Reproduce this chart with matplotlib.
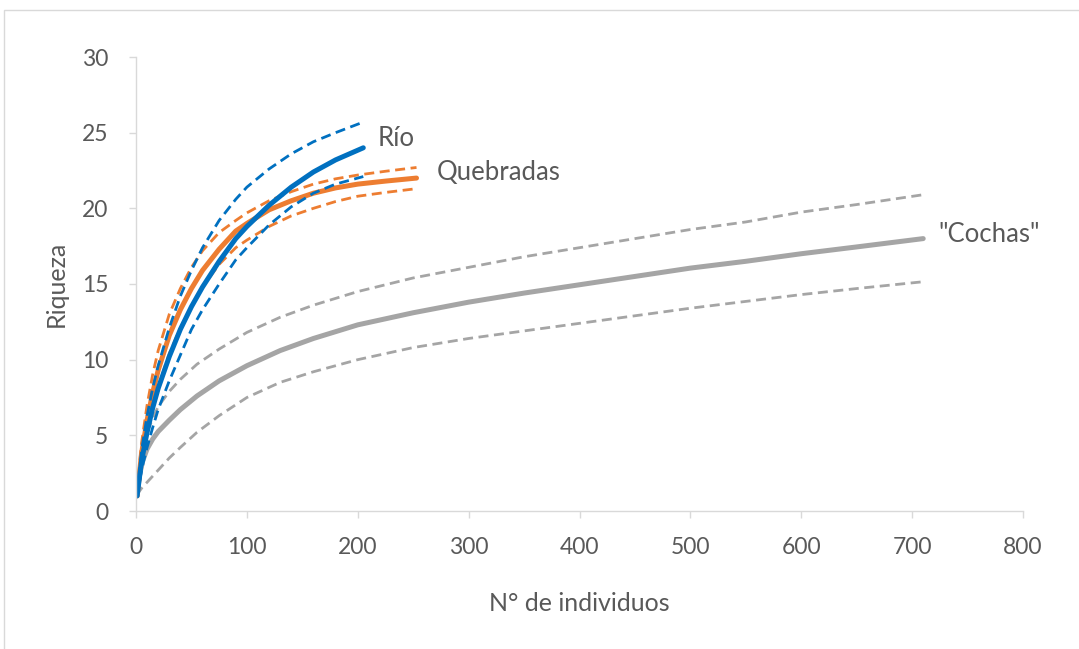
import matplotlib
matplotlib.use("Agg")
import matplotlib.pyplot as plt
from matplotlib.patches import Rectangle

# ---- data ----
rio_x     = [1, 5, 10, 15, 20, 30, 40, 50, 60, 75, 90, 100, 120, 140, 160, 180, 205]
rio_mean  = [1, 3.3, 5.2, 6.8, 8.1, 10.2, 12.0, 13.5, 14.8, 16.5, 18.0, 18.8, 20.2, 21.4, 22.4, 23.2, 24.0]
rio_upper = [1.2, 4.0, 6.3, 8.1, 9.6, 12.1, 14.2, 15.9, 17.4, 19.2, 20.6, 21.4, 22.6, 23.6, 24.4, 25.0, 25.7]
rio_lower = [1, 2.7, 4.2, 5.5, 6.7, 8.6, 10.3, 12.0, 13.3, 15.0, 16.6, 17.4, 18.9, 20.1, 21.0, 21.6, 22.1]

queb_x     = [1, 5, 10, 15, 20, 30, 40, 50, 60, 75, 90, 100, 120, 140, 160, 180, 200, 225, 253]
queb_mean  = [1, 3.8, 6.0, 7.8, 9.3, 11.6, 13.3, 14.7, 15.9, 17.3, 18.5, 19.0, 19.9, 20.5, 21.0, 21.35, 21.6, 21.8, 22.0]
queb_upper = [1.3, 4.5, 7.0, 9.0, 10.6, 13.0, 14.7, 16.1, 17.2, 18.4, 19.2, 19.7, 20.5, 21.1, 21.6, 21.95, 22.2, 22.45, 22.7]
queb_lower = [1, 3.3, 5.2, 6.8, 8.2, 10.4, 12.1, 13.5, 14.8, 16.3, 17.4, 17.9, 18.8, 19.5, 20.0, 20.45, 20.8, 21.05, 21.3]

coch_x     = [1, 3, 6, 10, 15, 20, 30, 40, 55, 75, 100, 130, 160, 200, 250, 300, 350, 400, 450, 500, 550, 600, 650, 710]
coch_mean  = [1, 2.3, 3.3, 4.1, 4.75, 5.25, 6.0, 6.7, 7.6, 8.6, 9.6, 10.6, 11.4, 12.3, 13.1, 13.8, 14.4, 14.95, 15.5, 16.05, 16.5, 17.0, 17.45, 18.0]
coch_upper = [1.2, 2.8, 4.2, 5.2, 6.1, 6.9, 7.9, 8.7, 9.7, 10.7, 11.8, 12.8, 13.6, 14.5, 15.4, 16.1, 16.8, 17.4, 18.0, 18.6, 19.1, 19.75, 20.25, 20.9]
coch_lower = [1, 1.3, 1.6, 1.9, 2.3, 2.7, 3.5, 4.2, 5.2, 6.3, 7.5, 8.5, 9.2, 10.0, 10.8, 11.4, 11.9, 12.4, 12.9, 13.4, 13.85, 14.3, 14.7, 15.15]

x_ticks = [0, 100, 200, 300, 400, 500, 600, 700, 800]
y_ticks = [0, 5, 10, 15, 20, 25, 30]

labels = ["Río", "Quebradas", '"Cochas"']

# ---- style ----
plt.rcParams['font.family'] = ['Lato', 'DejaVu Sans']
BLUE, ORANGE, GRAY = '#0070C0', '#ED7D31', '#A5A5A5'
TXT = '#595959'
AX = '#D9D9D9'

fig = plt.figure(figsize=(10.79, 6.49), dpi=100)
fig.patches.append(Rectangle((4/1079, -0.2), 1.5, 1.2 - 10/649, transform=fig.transFigure,
                             fill=False, edgecolor=AX, lw=1.0))
ax = fig.add_axes([136/1079, 1 - 511/649, (1023-136)/1079, (511-57)/649])

solid_kw = dict(lw=3.6, solid_capstyle='round')
dash_kw = dict(lw=2.0, dashes=(3.6, 2.0))

for xs, m, u, l, c in [(coch_x, coch_mean, coch_upper, coch_lower, GRAY),
                       (queb_x, queb_mean, queb_upper, queb_lower, ORANGE),
                       (rio_x, rio_mean, rio_upper, rio_lower, BLUE)]:
    ax.plot(xs, u, color=c, **dash_kw)
    ax.plot(xs, l, color=c, **dash_kw)
    ax.plot(xs, m, color=c, **solid_kw)

ax.set_xlim(0, 800)
ax.set_ylim(0, 30)
ax.set_xticks(x_ticks)
ax.set_yticks(y_ticks)
for s in ['top', 'right']:
    ax.spines[s].set_visible(False)
for s in ['left', 'bottom']:
    ax.spines[s].set_color(AX)
    ax.spines[s].set_linewidth(1.0)
ax.tick_params(axis='both', colors=AX, length=5, width=1.0, labelcolor=TXT, labelsize=16.5)
ax.tick_params(axis='y', pad=15)
ax.tick_params(axis='x', pad=14)

ax.set_xlabel("N° de individuos", fontsize=18, color=TXT, labelpad=24)
ax.set_ylabel("Riqueza", fontsize=18, color=TXT, labelpad=10)

ax.text(218, 24.6, labels[0], fontsize=18.5, color=TXT, va='center', ha='left')
ax.text(271, 22.4, labels[1], fontsize=18.5, color=TXT, va='center', ha='left')
ax.text(724, 18.3, labels[2], fontsize=18.5, color=TXT, va='center', ha='left')

fig.savefig("out.png", dpi=100)
